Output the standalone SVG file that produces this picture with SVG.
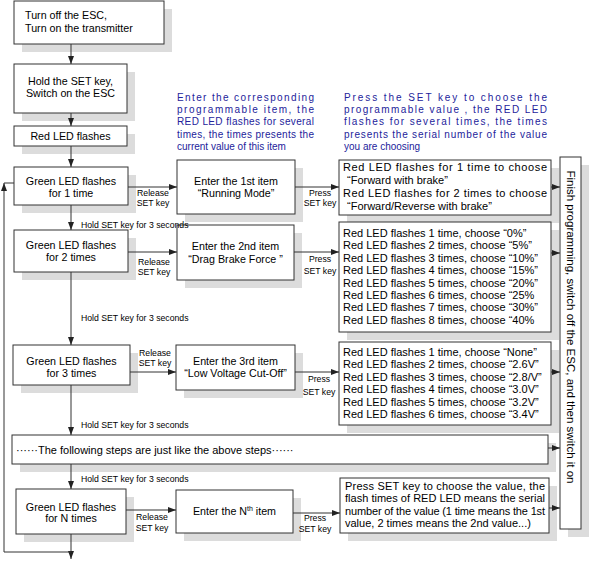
<svg xmlns="http://www.w3.org/2000/svg" width="590" height="563" viewBox="0 0 590 563">
<defs>
<marker id="ah" markerUnits="userSpaceOnUse" markerWidth="8" markerHeight="6" refX="8" refY="3" orient="auto">
<path d="M0,0 L8,3 L0,6 z" fill="#222"/>
</marker>
<style>
.sh{fill:#dcdcdc}
.bx{fill:#fff;stroke:#333;stroke-width:1}
text{font-family:"Liberation Sans",Arial,sans-serif;fill:#000}
.t{font-size:10.7px}
.m{text-anchor:middle}
.o{font-size:11px}
.l{font-size:8.7px}
.a{font-size:10px;fill:#23239b}
.c{stroke:#333;stroke-width:1;fill:none}
.ca{stroke:#333;stroke-width:1;fill:none;marker-end:url(#ah)}
</style>
</defs>
<rect width="590" height="563" fill="#fff"/>

<g id="note1">
<text class="a" x="177" y="101" textLength="137" lengthAdjust="spacing">Enter the corresponding</text>
<text class="a" x="177" y="113" textLength="137" lengthAdjust="spacing">programmable item, the</text>
<text class="a" x="177" y="125" textLength="137" lengthAdjust="spacing">RED LED flashes for several</text>
<text class="a" x="177" y="138" textLength="137" lengthAdjust="spacing">times, the times presents the</text>
<text class="a" x="177" y="150">current value of this item</text>
</g>
<g id="note2">
<text class="a" x="344" y="101" textLength="203" lengthAdjust="spacing">Press the SET key to choose the</text>
<text class="a" x="344" y="113" textLength="203" lengthAdjust="spacing">programmable value , the RED LED</text>
<text class="a" x="344" y="125" textLength="203" lengthAdjust="spacing">flashes for several times, the times</text>
<text class="a" x="344" y="138" textLength="203" lengthAdjust="spacing">presents the serial number of the  value</text>
<text class="a" x="344" y="150">you are choosing</text>
</g>

<g id="start">
<rect class="sh" x="22" y="9" width="150" height="43"/>
<rect class="bx" x="14" y="1" width="150" height="43"/>
<text class="t" x="25" y="19">Turn off the ESC,</text>
<text class="t" x="25" y="32">Turn on the transmitter</text>
</g>
<g id="hold">
<rect class="sh" x="22" y="72" width="113" height="49"/>
<rect class="bx" x="14" y="64" width="113" height="49"/>
<text class="t m" x="70.5" y="85">Hold the SET key,</text>
<text class="t m" x="70.5" y="97">Switch on the ESC</text>
</g>
<g id="redled">
<rect class="sh" x="22" y="134" width="113" height="20"/>
<rect class="bx" x="14" y="126" width="113" height="20"/>
<text class="t m" x="70.5" y="140">Red LED flashes</text>
</g>

<g id="green1">
<rect class="sh" x="22" y="175" width="114" height="38"/>
<rect class="bx" x="14" y="167" width="114" height="38"/>
<text class="t m" x="71" y="184.5">Green LED flashes</text>
<text class="t m" x="71" y="197">for 1 time</text>
</g>
<g id="item1">
<rect class="sh" x="185" y="168" width="118" height="54"/>
<rect class="bx" x="177" y="160" width="118" height="54"/>
<text class="t m" x="236" y="184.5">Enter the 1st item</text>
<text class="t m" x="236" y="197">“Running Mode”</text>
</g>
<g id="opt1">
<rect class="sh" x="347" y="168" width="212" height="55"/>
<rect class="bx" x="339" y="160" width="212" height="55"/>
<text class="o" x="343" y="171" textLength="204" lengthAdjust="spacing">Red LED flashes for 1 time to choose</text>
<text class="o" x="347" y="184">“Forward with brake”</text>
<text class="o" x="343" y="197" textLength="204" lengthAdjust="spacing">Red LED flashes for 2 times to  choose</text>
<text class="o" x="347" y="210">“Forward/Reverse with brake”</text>
</g>

<g id="green2">
<rect class="sh" x="22" y="238" width="114" height="42"/>
<rect class="bx" x="14" y="230" width="114" height="42"/>
<text class="t m" x="71" y="248.5">Green LED flashes</text>
<text class="t m" x="71" y="261">for 2 times</text>
</g>
<g id="item2">
<rect class="sh" x="185" y="233" width="117" height="55"/>
<rect class="bx" x="177" y="225" width="117" height="55"/>
<text class="t m" x="235.5" y="250">Enter the 2nd item</text>
<text class="t m" x="235.5" y="262.5">“Drag Brake Force ”</text>
</g>
<g id="opt2">
<rect class="sh" x="347" y="230" width="212" height="110"/>
<rect class="bx" x="339" y="222" width="212" height="110"/>
<text class="o" x="343" y="237">Red LED flashes 1 time, choose “0%”</text>
<text class="o" x="343" y="249.4">Red LED flashes 2 times, choose “5%”</text>
<text class="o" x="343" y="261.8">Red LED flashes 3 times, choose “10%”</text>
<text class="o" x="343" y="274.2">Red LED flashes 4 times, choose “15%”</text>
<text class="o" x="343" y="286.6">Red LED flashes 5 times, choose “20%”</text>
<text class="o" x="343" y="299">Red LED flashes 6 times, choose “25%</text>
<text class="o" x="343" y="311.4">Red LED flashes 7 times, choose “30%”</text>
<text class="o" x="343" y="323.8">Red LED flashes 8 times, choose “40%</text>
</g>

<g id="green3">
<rect class="sh" x="21" y="353" width="117" height="40"/>
<rect class="bx" x="13" y="345" width="117" height="40"/>
<text class="t m" x="71.5" y="365">Green LED flashes</text>
<text class="t m" x="71.5" y="377">for 3 times</text>
</g>
<g id="item3">
<rect class="sh" x="184" y="353" width="119" height="45"/>
<rect class="bx" x="176" y="345" width="119" height="45"/>
<text class="t m" x="235.5" y="364.5">Enter the 3rd item</text>
<text class="t m" x="235.5" y="377">“Low Voltage Cut-Off”</text>
</g>
<g id="opt3">
<rect class="sh" x="347" y="350" width="212" height="83"/>
<rect class="bx" x="339" y="342" width="212" height="83"/>
<text class="o" x="343" y="355.6">Red LED flashes 1 time, choose “None”</text>
<text class="o" x="343" y="368.1">Red LED flashes 2 times, choose “2.6V”</text>
<text class="o" x="343" y="380.6">Red LED flashes 3 times, choose “2.8/V”</text>
<text class="o" x="343" y="393.1">Red LED flashes 4 times, choose “3.0V”</text>
<text class="o" x="343" y="405.6">Red LED flashes 5 times, choose “3.2V”</text>
<text class="o" x="343" y="418.1">Red LED flashes 6 times, choose “3.4V”</text>
</g>

<g id="following">
<rect class="sh" x="20" y="443" width="536" height="29"/>
<rect class="bx" x="12" y="435" width="536" height="29"/>
<text class="o" x="16" y="453.5">······The following steps are just like the above steps······</text>
</g>

<g id="greenN">
<rect class="sh" x="24" y="497" width="110" height="45"/>
<rect class="bx" x="16" y="489" width="110" height="45"/>
<text class="t m" x="71" y="510.5">Green LED flashes</text>
<text class="t m" x="71" y="522">for N times</text>
</g>
<g id="itemN">
<rect class="sh" x="184" y="498" width="117" height="43"/>
<rect class="bx" x="176" y="490" width="117" height="43"/>
<text class="t m" x="234.5" y="515">Enter the N<tspan font-size="7" dy="-4">th</tspan><tspan dy="4"> item</tspan></text>
</g>
<g id="optN">
<rect class="sh" x="348" y="486" width="209" height="55"/>
<rect class="bx" x="340" y="478" width="209" height="55"/>
<text class="o" x="345" y="489.6" textLength="200" lengthAdjust="spacing">Press SET key to choose the value, the</text>
<text class="o" x="345" y="502.1" textLength="200" lengthAdjust="spacing">flash times of RED LED means the serial</text>
<text class="o" x="345" y="514.6" textLength="200" lengthAdjust="spacing">number of the value (1 time means the 1st</text>
<text class="o" x="345" y="527.1">value, 2 times means the 2nd value...)</text>
</g>

<g id="finish">
<rect class="sh" x="568" y="165" width="21" height="372"/>
<rect class="bx" x="560" y="157" width="21" height="372"/>
<text class="m" font-size="11.5" transform="translate(571,327) rotate(90)" y="4">Finish programming, switch off the ESC, and then switch it on</text>
</g>

<g id="connectors">
<line class="ca" x1="71" y1="44" x2="71" y2="64"/>
<line class="ca" x1="71" y1="113" x2="71" y2="126"/>
<line class="ca" x1="71" y1="146" x2="71" y2="167"/>
<line class="ca" x1="71" y1="205" x2="71" y2="230"/>
<line class="ca" x1="71" y1="272" x2="71" y2="345"/>
<line class="ca" x1="71" y1="385" x2="71" y2="435"/>
<line class="ca" x1="71" y1="464" x2="71" y2="489"/>
<line class="ca" x1="71" y1="534" x2="71" y2="559"/>
<path class="c" d="M71,552 H4 V183 H14"/>
<path d="M4,183 L1,191 L7,191 z" fill="#222"/>
<line class="ca" x1="128" y1="187" x2="177" y2="187"/>
<line class="ca" x1="295" y1="187" x2="339" y2="187"/>
<line class="ca" x1="551" y1="187" x2="560" y2="187"/>
<line class="ca" x1="128" y1="252" x2="177" y2="252"/>
<line class="ca" x1="294" y1="252" x2="339" y2="252"/>
<line class="ca" x1="551" y1="253" x2="560" y2="253"/>
<line class="ca" x1="130" y1="372" x2="176" y2="372"/>
<line class="ca" x1="295" y1="372" x2="339" y2="372"/>
<line class="ca" x1="551" y1="372" x2="560" y2="372"/>
<line class="ca" x1="548" y1="448" x2="560" y2="448"/>
<line class="ca" x1="126" y1="510" x2="176" y2="510"/>
<line class="ca" x1="293" y1="513" x2="340" y2="513"/>
<line class="ca" x1="549" y1="508" x2="560" y2="508"/>
<text class="l" x="81" y="227.5">Hold SET key for 3 seconds</text>
<text class="l" x="81" y="321">Hold SET key for 3 seconds</text>
<text class="l" x="81" y="428">Hold SET key for 3 seconds</text>
<text class="l" x="81" y="482">Hold SET key for 3 seconds</text>
<text class="l m" x="153" y="196">Release</text>
<text class="l m" x="153" y="206">SET key</text>
<text class="l m" x="154" y="265">Release</text>
<text class="l m" x="154" y="275">SET key</text>
<text class="l m" x="155" y="356">Release</text>
<text class="l m" x="155" y="366">SET key</text>
<text class="l m" x="152" y="520">Release</text>
<text class="l m" x="152" y="531">SET key</text>
<text class="l m" x="320" y="196">Press</text>
<text class="l m" x="320" y="206">SET key</text>
<text class="l m" x="320" y="262">Press</text>
<text class="l m" x="320" y="274">SET key</text>
<text class="l m" x="319" y="382">Press</text>
<text class="l m" x="319" y="395">SET key</text>
<text class="l m" x="315" y="521">Press</text>
<text class="l m" x="315" y="532">SET key</text>
</g>
</svg>
